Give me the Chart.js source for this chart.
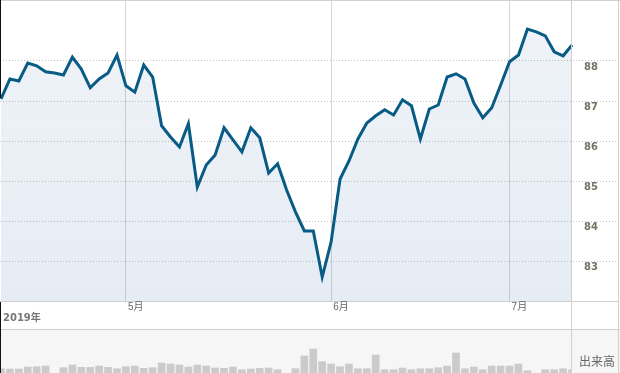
<!DOCTYPE html>
<html>
<head>
<meta charset="utf-8">
<script src="https://cdn.jsdelivr.net/npm/chart.js@4.4.1/dist/chart.umd.min.js"></script>
<style>
  html, body { margin: 0; padding: 0; background: #fff; }
  #wrap { position: relative; width: 620px; height: 373px; overflow: hidden; background: #fff; }
  #priceBox { position: absolute; left: 0; top: 0; width: 618px; height: 329px; }
  #volBg { position: absolute; left: 0; top: 329px; width: 620px; height: 44px; background: #f6f6f6; border-top: 1px solid #cfcfcf; box-sizing: border-box; }
  #volBox { position: absolute; left: 0; top: 330px; width: 620px; height: 43px; }
  .ln { position: absolute; background: #d0d0d0; }
  .txt { position: absolute; white-space: nowrap; font-family: "DejaVu Sans", "Noto Sans CJK JP", sans-serif; }
</style>
</head>
<body>
<div id="wrap">
  <div id="volBg"></div>
  <div id="priceBox"><canvas id="priceChart"></canvas></div>
  <div id="volBox"><canvas id="volChart"></canvas></div>
  <div class="ln" style="left:0;top:0;width:620px;height:1px;"></div>
  <div class="ln" style="left:571px;top:0;width:1px;height:373px;"></div>
  <div class="ln" style="left:618px;top:0;width:1px;height:373px;"></div>
  <div class="ln" style="left:0;top:0;width:1px;height:98px;background:#111;"></div>
  <div class="ln" style="left:0;top:302px;width:1px;height:71px;background:#111;"></div>
  <div class="txt" style="left:3px;top:313px;font-size:10px;line-height:10px;font-weight:bold;color:#777;">2019年</div>
  <div class="txt" style="left:579px;top:354px;font-size:12px;line-height:14px;color:#666;font-family:'Noto Sans CJK JP',sans-serif;">出来高</div>
</div>
<script>
// 終値（2019年4月10日〜7月11日、営業日ごと）
const closePrices = [
  87.05, 87.55, 87.50, 87.95, 87.88, 87.73, 87.70, 87.65, 88.10, 87.80,
  87.33, 87.55, 87.70, 88.15, 87.38, 87.22, 87.90, 87.60, 86.38, 86.10,
  85.85, 86.43, 84.85, 85.40, 85.65, 86.33, 86.03, 85.73, 86.33, 86.08,
  85.20, 85.43, 84.78, 84.23, 83.75, 83.75, 82.60, 83.48, 85.05, 85.50,
  86.05, 86.45, 86.63, 86.78, 86.65, 87.03, 86.88, 86.05, 86.80, 86.90,
  87.60, 87.68, 87.55, 86.95, 86.58, 86.83, 87.40, 87.98, 88.15, 88.80,
  88.73, 88.63, 88.23, 88.13, 88.40
];

// 出来高（千株）
const volumes = [
  313, 310, 310, 330, 333, 340, 255, 323, 350, 327,
  327, 340, 327, 313, 333, 340, 317, 323, 370, 360,
  350, 330, 350, 340, 320, 317, 330, 303, 310, 317,
  320, 303, 255, 313, 440, 510, 383, 360, 333, 360,
  313, 313, 450, 303, 303, 320, 303, 313, 313, 323,
  340, 470, 313, 330, 303, 340, 340, 340, 360, 293,
  255, 303, 303, 313, 303
];

// 月初の位置（営業日インデックス）と表示
const monthTicks = [14, 37, 57];
const monthLabels = ['5月', '6月', '7月'];

// 価格軸の目盛り
const priceTicks = [83, 84, 85, 86, 87, 88];

const xMin = -0.112;
const xMaxPrice = 69.15;
const xMaxVol = 64;

const idx = closePrices.map((_, i) => i);

new Chart(document.getElementById('priceChart'), {
  type: 'line',
  data: {
    datasets: [{
      data: closePrices.map((v, i) => ({ x: idx[i], y: v })),
      borderColor: '#075b84',
      borderWidth: 3,
      pointRadius: 0,
      tension: 0,
      fill: 'start',
      backgroundColor: (c) => {
        const area = c.chart.chartArea;
        if (!area) return 'rgba(60,110,170,0.1)';
        const g = c.chart.ctx.createLinearGradient(0, area.top, 0, area.bottom);
        g.addColorStop(0, 'rgba(60,110,170,0.08)');
        g.addColorStop(1, 'rgba(60,110,170,0.13)');
        return g;
      }
    }]
  },
  options: {
    responsive: true,
    maintainAspectRatio: false,
    animation: false,
    layout: { padding: { top: 1, bottom: 16, left: 0, right: 0 } },
    plugins: { legend: { display: false }, tooltip: { enabled: false } },
    scales: {
      x: {
        type: 'linear',
        min: xMin,
        max: xMaxPrice,
        afterBuildTicks: (s) => { s.ticks = monthTicks.map(v => ({ value: v })); },
        grid: { color: '#d6d6d6', drawTicks: false },
        border: { display: true, color: '#cfcfcf' },
        ticks: {
          autoSkip: false,
          maxRotation: 0,
          align: 'start',
          labelOffset: 2,
          padding: 1,
          color: '#666',
          font: { family: '"Liberation Sans", "Noto Sans CJK JP", sans-serif', size: 10, lineHeight: 1 },
          callback: (v, i) => monthLabels[i]
        }
      },
      y: {
        position: 'right',
        min: 82,
        max: 89.5,
        afterBuildTicks: (s) => { s.ticks = priceTicks.map(v => ({ value: v })); },
        afterFit: (s) => { s.width = 0; s.paddingTop = 0; s.paddingBottom = 0; },
        grid: { color: '#c4c4c4', drawTicks: false, borderDash: [1, 2] },
        border: { display: false, dash: [1, 2] },
        ticks: {
          mirror: true,
          padding: -20,
          labelOffset: 6,
          color: '#777360',
          font: { family: '"DejaVu Sans", sans-serif', size: 10, weight: 'bold' }
        }
      }
    }
  }
});

new Chart(document.getElementById('volChart'), {
  type: 'bar',
  data: {
    datasets: [{
      data: volumes.map((v, i) => ({ x: idx[i], y: v })),
      backgroundColor: '#cbcbcb',
      borderWidth: 0,
      barThickness: 7
    }]
  },
  options: {
    responsive: true,
    maintainAspectRatio: false,
    animation: false,
    layout: { padding: { top: 0, bottom: 0, left: 0, right: 48 } },
    plugins: { legend: { display: false }, tooltip: { enabled: false } },
    scales: {
      x: { type: 'linear', min: xMin, max: xMaxVol, offset: false, display: false },
      y: { min: 270, max: 700, display: false }
    }
  }
});
</script>
</body>
</html>
